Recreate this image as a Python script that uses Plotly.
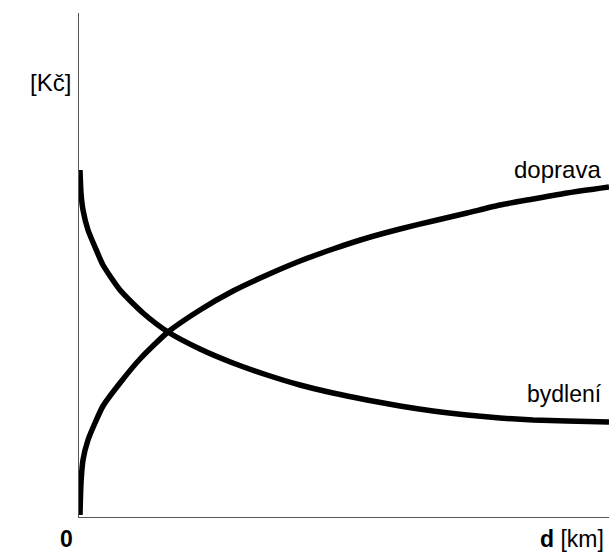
import plotly.graph_objects as go

# Distance (arbitrary units) and cost (arbitrary units)
doprava_x = [1, 2, 4, 9, 16, 24, 41, 61, 89, 121, 154, 188, 221, 254, 288, 321, 354, 388, 421, 454, 488, 530]
doprava_y = [2, 34, 57, 77, 94, 111, 134, 158, 185, 207, 226, 242, 256, 268, 279, 288, 296, 304, 312, 318, 324, 330]

bydleni_x = [1, 2, 4, 9, 16, 24, 41, 64, 89, 121, 154, 188, 221, 254, 288, 321, 354, 388, 421, 454, 488, 530]
bydleni_y = [347, 324, 307, 287, 270, 252, 227, 204, 185, 168, 154, 142, 132, 124, 117, 111, 106, 102, 99, 97, 96, 95]

series_labels = ["doprava", "bydlení"]
y_unit = "[Kč]"
x_origin = "<b>0</b>"
x_unit = "<b>d</b> [km]"

FONT = "Liberation Sans, Arial, sans-serif"

fig = go.Figure()
fig.add_trace(go.Scatter(x=doprava_x, y=doprava_y, mode="lines",
                         line=dict(color="black", width=5.5, shape="spline", smoothing=0.6),
                         name=series_labels[0], showlegend=False, cliponaxis=False))
fig.add_trace(go.Scatter(x=bydleni_x, y=bydleni_y, mode="lines",
                         line=dict(color="black", width=5.5, shape="spline", smoothing=0.6),
                         name=series_labels[1], showlegend=False, cliponaxis=False))

fig.update_xaxes(range=[0, 530], showline=True, linecolor="#555555", linewidth=1,
                 showgrid=False, zeroline=False, showticklabels=False, ticks="")
fig.update_yaxes(range=[0, 504], showline=True, linecolor="#555555", linewidth=1,
                 showgrid=False, zeroline=False, showticklabels=False, ticks="")

ann = [
    dict(x=524, y=348, xref="x", yref="y", text=series_labels[0],
         xanchor="right", yanchor="middle", font=dict(size=24)),
    dict(x=525, y=123, xref="x", yref="y", text=series_labels[1],
         xanchor="right", yanchor="middle", font=dict(size=23)),
    dict(x=-0.0547, y=0.863, xref="paper", yref="paper", text=y_unit,
         xanchor="center", yanchor="middle", font=dict(size=24)),
    dict(x=-0.0245, y=-0.044, xref="paper", yref="paper", text=x_origin,
         xanchor="center", yanchor="middle", font=dict(size=23)),
    dict(x=0.9943, y=-0.044, xref="paper", yref="paper", text=x_unit,
         xanchor="right", yanchor="middle", font=dict(size=23)),
]
for a in ann:
    a.update(showarrow=False)
    a["font"].update(family=FONT, color="black")
fig.update_layout(annotations=ann)

fig.update_layout(width=609, height=555, margin=dict(l=79, r=0, t=13, b=38),
                  plot_bgcolor="white", paper_bgcolor="white",
                  font=dict(family=FONT, color="black"))

fig.write_html("out.html", config={"displayModeBar": False},
               post_script="document.body.style.margin='0';document.body.style.overflow='hidden';")
